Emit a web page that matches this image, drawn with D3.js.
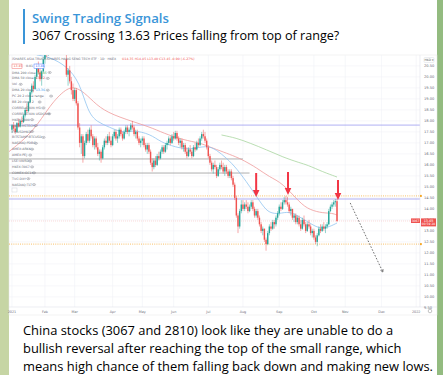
<!DOCTYPE html>
<html>
<head>
<meta charset="utf-8">
<script src="https://cdn.jsdelivr.net/npm/d3@7"></script>
<style>
  html, body { margin: 0; padding: 0; background: #fff; }
  svg { display: block; }
</style>
</head>
<body>
<svg id="chart" width="443" height="375"></svg>
<script>
// daily candles [open, high, low, close], one array per month (2021)
const jan = [
  [17.60, 17.85, 17.45, 17.80], [17.80, 17.95, 17.55, 17.65], [17.65, 17.80, 17.40, 17.50], [17.50, 17.95, 17.45, 17.90],
  [17.90, 18.10, 17.70, 17.75], [17.75, 18.05, 17.70, 18.00], [18.00, 18.20, 17.85, 17.95], [17.95, 18.30, 17.90, 18.25],
  [18.25, 18.60, 18.15, 18.50], [18.50, 18.80, 18.35, 18.45], [18.45, 18.90, 18.40, 18.85], [18.85, 19.40, 18.80, 19.30],
  [19.30, 19.70, 19.20, 19.60], [19.60, 19.80, 19.30, 19.45], [19.45, 20.10, 19.40, 20.00], [20.00, 20.60, 19.90, 20.50],
  [20.50, 20.70, 20.10, 20.20], [20.20, 20.40, 19.80, 19.90], [19.90, 20.30, 19.60, 20.25], [20.25, 20.90, 20.20, 20.80]
];
const feb = [
  [20.80, 21.20, 20.60, 21.10], [21.10, 21.40, 20.90, 21.00], [21.00, 21.60, 20.95, 21.50], [21.50, 21.70, 21.10, 21.20],
  [21.20, 21.80, 21.10, 21.70], [21.70, 22.10, 21.50, 22.00], [22.00, 22.30, 21.80, 22.20], [22.20, 22.50, 22.00, 22.40],
  [22.40, 22.60, 22.10, 22.30], [22.30, 22.80, 22.20, 22.70], [22.70, 22.90, 22.20, 22.30], [22.30, 22.40, 21.60, 21.70],
  [21.70, 21.90, 21.20, 21.40], [20.80, 21.00, 20.00, 20.10], [20.10, 20.40, 19.60, 20.30], [20.30, 20.50, 19.70, 19.80],
  [19.80, 20.00, 19.20, 19.40], [19.40, 19.70, 18.90, 19.00]
];
const mar = [
  [19.00, 19.50, 18.90, 19.40], [19.40, 19.50, 18.70, 18.80], [18.80, 18.90, 17.60, 17.70], [17.70, 17.90, 16.80, 17.00],
  [17.00, 17.40, 16.50, 17.30], [17.30, 17.40, 16.10, 16.40], [16.40, 17.10, 16.30, 17.00], [17.00, 17.50, 16.90, 17.40],
  [17.40, 17.60, 17.00, 17.10], [17.10, 17.70, 17.00, 17.60], [17.60, 17.80, 17.20, 17.30], [17.30, 17.40, 16.80, 16.90],
  [16.90, 17.30, 16.70, 17.20], [17.20, 17.30, 16.70, 16.80], [16.80, 17.00, 16.40, 16.50], [16.50, 16.70, 16.20, 16.60],
  [16.60, 16.70, 16.10, 16.30], [16.30, 16.90, 16.25, 16.80], [16.80, 17.20, 16.70, 17.10], [17.10, 17.30, 16.90, 17.00],
  [17.00, 17.40, 16.90, 17.30], [17.30, 17.50, 17.00, 17.10], [17.10, 17.30, 16.80, 16.90]
];
const apr = [
  [16.90, 17.40, 16.85, 17.30], [17.30, 17.60, 17.20, 17.50], [17.50, 17.60, 17.10, 17.20], [17.20, 17.40, 17.00, 17.30],
  [17.30, 17.70, 17.20, 17.60], [17.60, 17.70, 17.30, 17.40], [17.40, 17.50, 17.10, 17.20], [17.20, 17.60, 17.15, 17.50],
  [17.50, 17.80, 17.40, 17.70], [17.70, 17.80, 17.40, 17.50], [17.50, 17.70, 17.30, 17.60], [17.60, 17.90, 17.50, 17.80],
  [17.80, 18.00, 17.60, 17.70], [17.70, 17.80, 17.30, 17.40], [17.40, 17.60, 17.20, 17.50], [17.50, 17.60, 17.10, 17.20],
  [17.20, 17.30, 16.90, 17.00], [17.00, 17.20, 16.80, 17.10]
];
const may = [
  [17.10, 17.30, 16.90, 17.20], [17.20, 17.30, 16.80, 16.90], [16.90, 17.00, 16.60, 16.70], [16.70, 17.00, 16.50, 16.90],
  [16.90, 17.00, 16.50, 16.60], [16.60, 16.70, 16.00, 16.10], [16.10, 16.30, 15.70, 15.90], [15.90, 16.30, 15.80, 16.20],
  [16.20, 16.40, 15.90, 16.00], [16.00, 16.50, 15.95, 16.40], [16.40, 16.60, 16.20, 16.30], [16.30, 16.70, 16.25, 16.60],
  [16.60, 16.90, 16.50, 16.80], [16.80, 16.90, 16.50, 16.60], [16.60, 17.00, 16.55, 16.90], [16.90, 17.10, 16.70, 17.00],
  [17.00, 17.30, 16.90, 17.20], [17.20, 17.30, 16.90, 17.00], [17.00, 17.40, 16.95, 17.30]
];
const jun = [
  [17.30, 17.50, 17.10, 17.20], [17.20, 17.55, 17.15, 17.45], [17.45, 17.55, 17.10, 17.20], [17.20, 17.30, 16.90, 17.00],
  [17.00, 17.20, 16.80, 17.10], [17.10, 17.20, 16.70, 16.80], [16.80, 17.00, 16.60, 16.90], [16.90, 17.00, 16.50, 16.60],
  [16.60, 16.80, 16.30, 16.40], [16.40, 16.80, 16.35, 16.70], [16.70, 16.90, 16.50, 16.60], [16.60, 16.70, 16.30, 16.40],
  [16.40, 16.90, 16.35, 16.80], [16.80, 17.00, 16.60, 16.70], [16.70, 17.10, 16.65, 17.00], [17.00, 17.20, 16.80, 16.90],
  [16.90, 17.30, 16.85, 17.20], [17.20, 17.50, 17.10, 17.40], [17.40, 17.60, 17.20, 17.30], [17.30, 17.50, 17.00, 17.10],
  [17.10, 17.20, 16.70, 16.80]
];
const jul = [
  [16.80, 16.90, 16.30, 16.40], [16.40, 16.50, 16.00, 16.10], [16.10, 16.20, 15.70, 15.80], [15.80, 16.10, 15.60, 16.00],
  [16.00, 16.20, 15.80, 15.90], [15.90, 16.00, 15.40, 15.50], [15.50, 15.90, 15.45, 15.80], [15.80, 16.10, 15.70, 16.00],
  [16.00, 16.20, 15.80, 15.90], [15.90, 16.10, 15.60, 15.70], [15.70, 16.00, 15.50, 15.90], [15.90, 16.00, 15.60, 15.70],
  [15.70, 15.80, 15.40, 15.50], [15.50, 15.80, 15.40, 15.70], [15.70, 15.80, 15.30, 15.40], [15.40, 15.50, 15.00, 15.10],
  [15.10, 15.20, 14.40, 14.50], [14.50, 14.60, 13.60, 13.70], [13.70, 13.80, 12.90, 13.20], [13.20, 14.00, 13.10, 13.90],
  [13.90, 14.40, 13.80, 14.20]
];
const aug = [
  [14.20, 14.40, 13.90, 14.00], [14.00, 14.30, 13.90, 14.20], [14.20, 14.40, 14.00, 14.10], [14.10, 14.30, 13.80, 13.90],
  [13.90, 14.20, 13.85, 14.10], [14.10, 14.40, 14.00, 14.30], [14.30, 14.40, 13.90, 14.00], [14.00, 14.10, 13.60, 13.70],
  [13.70, 14.00, 13.60, 13.90], [13.90, 14.00, 13.50, 13.60], [13.60, 13.70, 13.20, 13.30], [13.30, 13.40, 12.90, 13.00],
  [13.00, 13.20, 12.80, 13.10], [13.10, 13.10, 12.50, 12.60], [12.60, 12.70, 12.10, 12.40], [12.40, 13.00, 12.35, 12.90],
  [12.90, 13.30, 12.80, 13.20], [13.20, 13.40, 13.00, 13.10], [13.10, 13.50, 13.05, 13.40], [13.40, 13.50, 13.10, 13.30],
  [13.30, 13.70, 13.20, 13.60], [13.60, 13.90, 13.50, 13.80]
];
const sep = [
  [13.80, 14.20, 13.70, 14.10], [14.10, 14.30, 13.90, 14.00], [14.00, 14.40, 13.95, 14.30], [14.30, 14.55, 14.20, 14.40],
  [14.40, 14.60, 14.20, 14.30], [14.30, 14.55, 14.10, 14.20], [14.20, 14.30, 13.80, 13.90], [13.90, 14.10, 13.70, 14.00],
  [14.00, 14.00, 13.50, 13.60], [13.60, 13.80, 13.40, 13.70], [13.70, 13.80, 13.30, 13.40], [13.40, 13.70, 13.30, 13.60],
  [13.60, 13.70, 13.20, 13.30], [13.30, 13.50, 13.00, 13.10], [13.10, 13.60, 13.05, 13.50], [13.50, 13.70, 13.20, 13.30],
  [13.30, 13.40, 12.90, 13.00], [13.00, 13.40, 12.95, 13.30], [13.30, 13.50, 13.10, 13.20], [13.20, 13.30, 12.80, 12.90],
  [12.90, 13.10, 12.70, 13.00]
];
const oct = [
  [13.00, 13.10, 12.60, 12.70], [12.70, 12.80, 12.40, 12.50], [12.50, 12.90, 12.30, 12.80], [12.80, 13.20, 12.75, 13.10],
  [13.10, 13.30, 12.90, 13.00], [13.00, 13.30, 12.95, 13.20], [13.20, 13.40, 13.00, 13.10], [13.10, 13.30, 12.90, 13.20],
  [13.20, 13.40, 13.10, 13.30], [13.30, 14.00, 13.25, 13.90], [13.90, 14.20, 13.85, 14.10], [14.10, 14.30, 14.00, 14.20],
  [14.20, 14.40, 14.10, 14.30], [14.30, 14.45, 14.10, 14.35], [14.35, 14.45, 13.40, 13.45]
];

// trading days per month and the axis labels at each month start
const monthDays = [20, 18, 23, 18, 19, 21, 21, 22, 21, 19, 22, 21];
const monthLabels = ['2021', 'Feb', 'Mar', 'Apr', 'May', 'Jun', 'Jul', 'Aug', 'Sep', 'Oct', 'Nov', 'Dec', '2022'];
const priceTicks = [9.5, 10, 10.5, 11, 11.5, 12, 12.5, 13, 13.5, 14, 14.5, 15, 15.5, 16, 16.5, 17, 17.5, 18, 18.5, 19, 19.5, 20, 20.5];

// moving averages as [bar index, price]
const ma20 = [[15, 21.0], [23, 20.9], [33, 20.5], [41, 19.77], [46, 18.4], [51.5, 17.95], [59, 17.72], [67, 17.45], [73, 17.59],
  [84, 17.4], [90, 17.04], [99, 16.81], [108, 16.68], [118, 16.9], [124, 16.68], [130, 16.31], [136, 15.86], [144, 15.04],
  [152, 14.13], [156, 13.81], [162, 13.77], [168, 13.9], [174.5, 13.63], [180.5, 13.36], [185.5, 13.13], [191, 13.13], [197, 13.36]];
const ma50 = [[-2, 16.59], [13, 17.5], [23, 18.72], [33, 19.5], [39, 19.54], [45.5, 19.18], [53, 18.59], [64, 18.18], [84, 17.72],
  [91.5, 17.45], [104, 17.13], [114, 17.0], [120, 16.81], [128, 16.59], [136, 16.36], [140, 16.22], [148.5, 15.86], [156, 15.45],
  [164, 15.18], [174.5, 14.27], [180.5, 13.95], [188.5, 13.81], [194, 13.81], [197, 13.72]];
const ma200 = [[127, 17.36], [136, 17.22], [144, 17.0], [154.5, 16.68], [164, 16.36], [174.5, 16.09], [179, 16.0], [188.5, 15.68], [197, 15.45]];

// drawn levels
const purpleLevels = [17.81, 14.45];
const grayLevels = [[16.27, 140], [15.63, 144]];
const orangeLevels = [14.59, 12.40];
const arrowsDown = [[148, 15.63, 14.54], [167.3, 15.68, 14.63], [197.6, 15.31, 14.40]];
const projection = [[205, 14.27], [224.8, 11.13]];

const legendRows = ['DMA 200 close', 'DMA 50 close', 'Vol', 'DMA 20 close', 'PC 20 2 close range', 'BB 20 close 2',
  'CORRELATION HSI', 'CORRELATION USDCNH', 'HKEX:2800', 'HKEX:HSTECH', 'FX:USDHKD', 'BITSTAMP:BTCUSD', 'NASDAQ:PDBC',
  'AMEX:ARKK', 'AMEX:PEJ', 'LSE:VWRD', 'HKEX:3067', 'COMEX:GC1!', 'TVC:DXY', 'NASDAQ:TLT'];

const bodyLines = [
  'China stocks (3067 and 2810) look like they are unable to do a',
  'bullish reversal after reaching the top of the small range, which',
  'means high chance of them falling back down and making new lows.'
];

const candles = [].concat(jan, feb, mar, apr, may, jun, jul, aug, sep, oct)
  .map((d, i) => ({ i: i, o: d[0], h: d[1], l: d[2], c: d[3] }));
const last = candles[candles.length - 1];

const svg = d3.select('#chart');

// telegram background and bubble
svg.append('rect').attr('width', 443).attr('height', 375).attr('fill', '#c6d5a4');
svg.append('rect').attr('x', 437).attr('width', 6).attr('height', 375).attr('fill', '#93bb80');
svg.append('rect').attr('x', 9).attr('width', 428).attr('height', 375).attr('fill', '#ffffff');

svg.append('rect').attr('x', 23).attr('y', 9).attr('width', 2).attr('height', 35).attr('fill', '#3a95d8');
svg.append('text').attr('x', 32).attr('y', 23).attr('font-family', 'Open Sans').attr('font-weight', 600)
  .attr('font-size', 13.2).attr('fill', '#3a95d8').text('Swing Trading Signals');
svg.append('text').attr('x', 32).attr('y', 40).attr('font-family', 'Open Sans')
  .attr('font-size', 12.6).attr('fill', '#000').text('3067 Crossing 13.63 Prices falling from top of range?');

// chart screenshot
const img = { left: 9, top: 55, right: 437, bottom: 315 };
const plot = { left: 9, top: 55, right: 420, bottom: 307 };

const x = d3.scaleLinear().domain([-1.8, 247.3]).range([plot.left, plot.right]);
const y = d3.scaleLinear().domain([9.5, 20.5]).range([307.9, 65.9]);

const defs = svg.append('defs');
defs.append('clipPath').attr('id', 'plotclip').append('rect')
  .attr('x', plot.left).attr('y', plot.top).attr('width', plot.right - plot.left).attr('height', plot.bottom - plot.top);

const chart = svg.append('g');
chart.append('rect').attr('x', img.left).attr('y', img.top).attr('width', img.right - img.left)
  .attr('height', img.bottom - img.top).attr('fill', '#fff').attr('stroke', '#e6e6e6').attr('stroke-width', 0.5);

const monthStarts = monthLabels.map((m, k) => d3.sum(monthDays.slice(0, k)));

const grid = chart.append('g').attr('clip-path', 'url(#plotclip)');
grid.selectAll('.vg').data(monthStarts).enter().append('line')
  .attr('x1', d => x(d)).attr('x2', d => x(d)).attr('y1', plot.top).attr('y2', plot.bottom)
  .attr('stroke', '#f0f2f7').attr('stroke-width', 0.6);
grid.selectAll('.hg').data(priceTicks).enter().append('line')
  .attr('x1', plot.left).attr('x2', plot.right).attr('y1', d => y(d)).attr('y2', d => y(d))
  .attr('stroke', '#f0f2f7').attr('stroke-width', 0.6);

const pane = chart.append('g').attr('clip-path', 'url(#plotclip)');

// horizontal levels
pane.selectAll('.purple').data(purpleLevels).enter().append('line')
  .attr('x1', plot.left).attr('x2', plot.right).attr('y1', d => y(d)).attr('y2', d => y(d))
  .attr('stroke', '#9c9cf0').attr('stroke-width', 0.8);
pane.selectAll('.gray').data(grayLevels).enter().append('line')
  .attr('x1', plot.left).attr('x2', d => x(d[1])).attr('y1', d => y(d[0])).attr('y2', d => y(d[0]))
  .attr('stroke', '#9a9a9a').attr('stroke-width', 0.8);
pane.selectAll('.orange').data(orangeLevels).enter().append('line')
  .attr('x1', plot.left).attr('x2', plot.right).attr('y1', d => y(d)).attr('y2', d => y(d))
  .attr('stroke', '#f5b041').attr('stroke-width', 0.8).attr('stroke-dasharray', '1,1.2');
pane.append('line').attr('x1', plot.left).attr('x2', plot.right).attr('y1', y(last.c)).attr('y2', y(last.c))
  .attr('stroke', '#f4b4b4').attr('stroke-width', 0.5).attr('stroke-dasharray', '1,1');

// moving averages
const maLine = d3.line().x(d => x(d[0])).y(d => y(d[1])).curve(d3.curveBasis);
pane.append('path').attr('d', maLine(ma200)).attr('fill', 'none').attr('stroke', '#a8d5a0').attr('stroke-width', 0.8);
pane.append('path').attr('d', maLine(ma50)).attr('fill', 'none').attr('stroke', '#ef9a9a').attr('stroke-width', 0.8);
pane.append('path').attr('d', maLine(ma20)).attr('fill', 'none').attr('stroke', '#90c4f0').attr('stroke-width', 0.8);

// candles
const up = '#26a69a', down = '#ef5350';
const cg = pane.selectAll('.candle').data(candles).enter().append('g');
cg.append('line').attr('x1', d => x(d.i)).attr('x2', d => x(d.i)).attr('y1', d => y(d.h)).attr('y2', d => y(d.l))
  .attr('stroke', d => d.c >= d.o ? up : down).attr('stroke-width', 0.5);
cg.append('rect').attr('x', d => x(d.i) - 0.7).attr('width', 1.4)
  .attr('y', d => y(Math.max(d.o, d.c))).attr('height', d => Math.max(0.5, Math.abs(y(d.o) - y(d.c))))
  .attr('fill', d => d.c >= d.o ? up : down);

// red arrow marks
arrowsDown.forEach(a => {
  const ax = x(a[0]), y0 = y(a[1]), y1 = y(a[2]);
  pane.append('path')
    .attr('d', `M${ax - 1},${y0} L${ax + 1},${y0} L${ax + 1},${y1 - 7} L${ax + 3.3},${y1 - 7} L${ax},${y1} L${ax - 3.3},${y1 - 7} L${ax - 1},${y1 - 7} Z`)
    .attr('fill', '#f23645');
});

// dashed projection
pane.append('line').attr('x1', x(projection[0][0])).attr('y1', y(projection[0][1]))
  .attr('x2', x(projection[1][0])).attr('y2', y(projection[1][1]))
  .attr('stroke', '#333').attr('stroke-width', 0.7).attr('stroke-dasharray', '1.6,1.6');
{
  const px = x(projection[1][0]), py = y(projection[1][1]);
  const ang = Math.atan2(py - y(projection[0][1]), px - x(projection[0][0]));
  const hl = 3;
  pane.append('path')
    .attr('d', `M${px - hl * Math.cos(ang - 0.5)},${py - hl * Math.sin(ang - 0.5)} L${px},${py} L${px - hl * Math.cos(ang + 0.5)},${py - hl * Math.sin(ang + 0.5)}`)
    .attr('fill', 'none').attr('stroke', '#333').attr('stroke-width', 0.6);
}

// price axis
chart.append('line').attr('x1', plot.right).attr('x2', plot.right).attr('y1', img.top).attr('y2', plot.bottom)
  .attr('stroke', '#e0e3eb').attr('stroke-width', 0.6);
chart.append('line').attr('x1', img.left).attr('x2', img.right).attr('y1', plot.bottom).attr('y2', plot.bottom)
  .attr('stroke', '#e0e3eb').attr('stroke-width', 0.6);
chart.selectAll('.pl').data(priceTicks).enter().append('text')
  .attr('x', 424).attr('y', d => y(d) + 1.3).attr('font-family', 'DejaVu Sans').attr('font-size', 3.6)
  .attr('fill', '#6a6d78').text(d => d.toFixed(2));

orangeLevels.forEach(v => {
  chart.append('rect').attr('x', plot.right).attr('y', y(v) - 1).attr('width', 1.8).attr('height', 2).attr('fill', '#f5a623');
});

// last price tag
chart.append('rect').attr('x', 411).attr('y', y(last.c) - 2.6).attr('width', 9).attr('height', 4.6).attr('fill', '#ef5350');
chart.append('text').attr('x', 415.5).attr('y', y(last.c) + 0.8).attr('text-anchor', 'middle')
  .attr('font-family', 'DejaVu Sans').attr('font-size', 3).attr('fill', '#fff').text('3067');
chart.append('rect').attr('x', 421).attr('y', y(last.c) - 2.6).attr('width', 15).attr('height', 8).attr('fill', '#ef5350');
chart.append('text').attr('x', 428.5).attr('y', y(last.c) + 0.8).attr('text-anchor', 'middle')
  .attr('font-family', 'DejaVu Sans').attr('font-size', 3.4).attr('fill', '#fff').text(last.c.toFixed(2));
chart.append('text').attr('x', 428.5).attr('y', y(last.c) + 4.4).attr('text-anchor', 'middle')
  .attr('font-family', 'DejaVu Sans').attr('font-size', 3).attr('fill', '#fff').text('00:59:28');

// currency button and settings icon
chart.append('rect').attr('x', 424).attr('y', 57.5).attr('width', 10).attr('height', 5).attr('rx', 1)
  .attr('fill', '#fff').attr('stroke', '#d0d3db').attr('stroke-width', 0.4);
chart.append('text').attr('x', 429).attr('y', 61.3).attr('text-anchor', 'middle').attr('font-family', 'DejaVu Sans')
  .attr('font-size', 3).attr('fill', '#555').text('HKD ▾');
chart.append('circle').attr('cx', 430).attr('cy', 311).attr('r', 1.8).attr('fill', 'none').attr('stroke', '#888').attr('stroke-width', 0.5);

// time axis labels
chart.selectAll('.tl').data(monthLabels).enter().append('text')
  .attr('x', (d, k) => x(monthStarts[k])).attr('y', 312.5).attr('text-anchor', 'middle')
  .attr('font-family', 'DejaVu Sans').attr('font-size', 3.4).attr('fill', '#6a6d78').text(d => d);

// legend overlay
const lg = chart.append('g').attr('font-family', 'DejaVu Sans').attr('font-size', 3.2);
lg.append('text').attr('x', 12).attr('y', 60).attr('fill', '#6a6d78')
  .text('iSHARES ASIA TRUST-ISHARES HANG SENG TECH ETF · 1D · HKEX');
lg.append('text').attr('x', 122).attr('y', 60).attr('fill', down)
  .text(`O${last.o.toFixed(2)} H${last.h.toFixed(2)} L${last.l.toFixed(2)} C${last.c.toFixed(2)} ${(last.c - last.o).toFixed(2)} (${((last.c - last.o) / last.o * 100).toFixed(2)}%)`);
lg.append('rect').attr('x', 12).attr('y', 64).attr('width', 10).attr('height', 4.5).attr('fill', '#fff').attr('stroke', down).attr('stroke-width', 0.4);
lg.append('text').attr('x', 13.5).attr('y', 67.3).attr('fill', down).text(last.c.toFixed(2));
lg.append('text').attr('x', 26).attr('y', 67.3).attr('fill', '#6a6d78').text('0.01');
lg.append('rect').attr('x', 34).attr('y', 64).attr('width', 10).attr('height', 4.5).attr('fill', '#fff').attr('stroke', '#2962ff').attr('stroke-width', 0.4);
lg.append('text').attr('x', 35.5).attr('y', 67.3).attr('fill', '#2962ff').text((last.c + 0.01).toFixed(2));

const maValues = [[ma200, '#4caf50'], [ma50, down], null, [ma20, '#2196f3']];
legendRows.forEach((name, k) => {
  const ry = 73.5 + k * 5.9;
  lg.append('text').attr('x', 12).attr('y', ry).attr('fill', '#6a6d78').text(name);
  let w = name.length * 1.9;
  if (maValues[k]) {
    const v = maValues[k][0][maValues[k][0].length - 1][1];
    lg.append('text').attr('x', 12 + w + 1).attr('y', ry).attr('fill', maValues[k][1]).text(v.toFixed(2));
    w += 10;
  }
  lg.append('ellipse').attr('cx', 12 + w + 3).attr('cy', ry - 1).attr('rx', 1.6).attr('ry', 1)
    .attr('fill', 'none').attr('stroke', '#6a6d78').attr('stroke-width', 0.4);
  lg.append('circle').attr('cx', 12 + w + 3).attr('cy', ry - 1).attr('r', 0.45).attr('fill', '#6a6d78');
});
lg.append('rect').attr('x', 12).attr('y', 73.5 + legendRows.length * 5.9 - 3.5).attr('width', 5).attr('height', 4)
  .attr('fill', '#fff').attr('stroke', '#c8cbd3').attr('stroke-width', 0.4);

// message body
svg.selectAll('.body').data(bodyLines).enter().append('text')
  .attr('x', 23).attr('y', (d, k) => 335 + k * 18).attr('font-family', 'Open Sans')
  .attr('font-size', 12.9).attr('fill', '#000').text(d => d);
</script>
</body>
</html>
